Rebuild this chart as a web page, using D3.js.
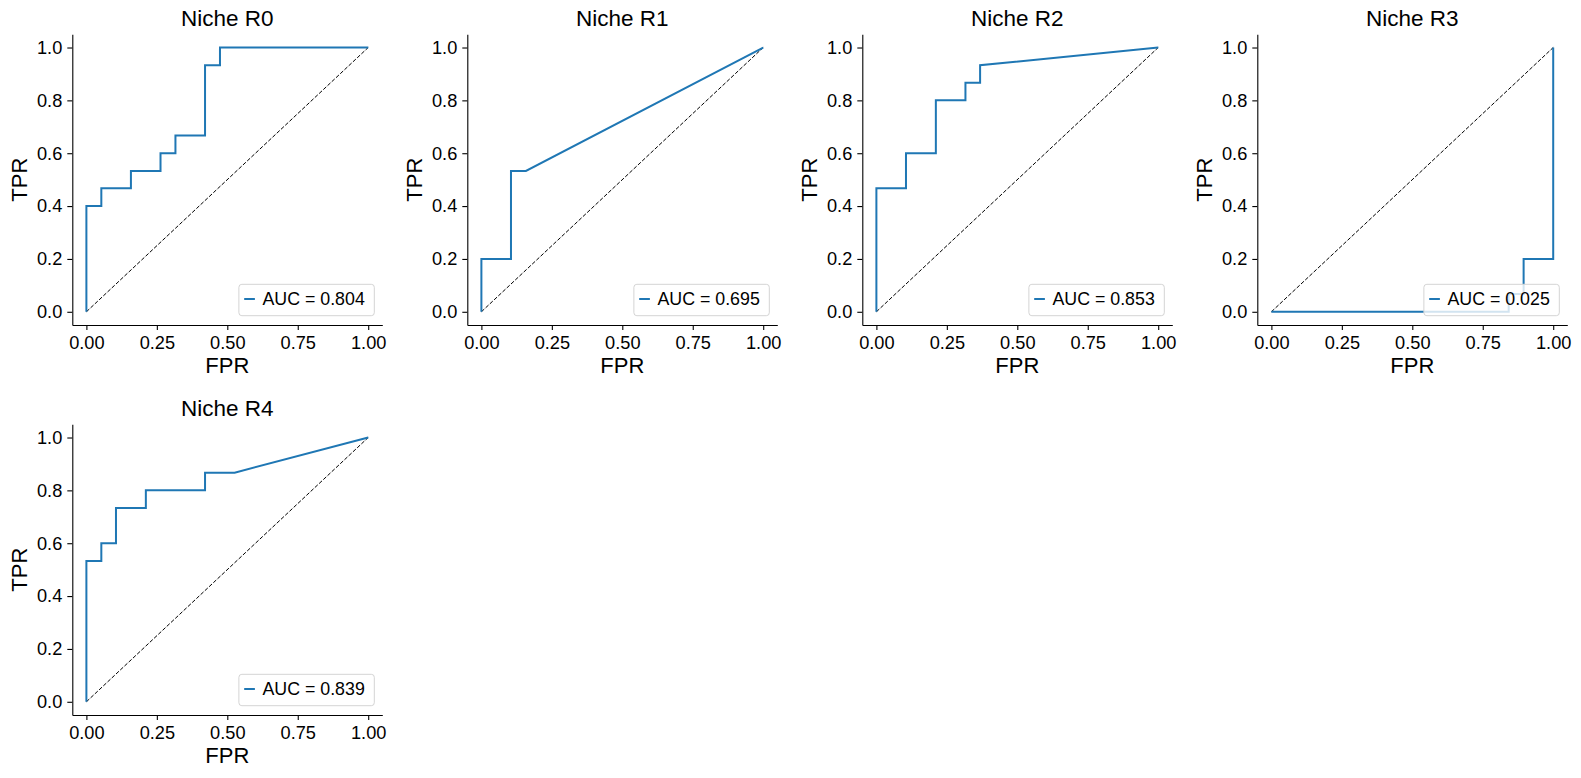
<!DOCTYPE html>
<html>
<head>
<meta charset="utf-8">
<script src="https://cdn.jsdelivr.net/npm/d3@7"></script>
<style>
  body { margin: 0; background: #fff; }
  text { font-family: "Liberation Sans", Arial, sans-serif; }
</style>
</head>
<body>
<script>
// values
const titles = ["Niche R0", "Niche R1", "Niche R2", "Niche R3", "Niche R4"];
const aucs = [0.804, 0.695, 0.853, 0.025, 0.839];

const fprR0 = [0, 0, 0.053, 0.053, 0.158, 0.158, 0.263, 0.263, 0.316, 0.316, 0.421, 0.421, 0.474, 0.474, 1];
const tprR0 = [0, 0.4, 0.4, 0.467, 0.467, 0.533, 0.533, 0.6, 0.6, 0.667, 0.667, 0.933, 0.933, 1, 1];

const fprR1 = [0, 0, 0.105, 0.105, 0.158, 1];
const tprR1 = [0, 0.2, 0.2, 0.533, 0.533, 1];

const fprR2 = [0, 0, 0.105, 0.105, 0.211, 0.211, 0.316, 0.316, 0.368, 0.368, 1];
const tprR2 = [0, 0.467, 0.467, 0.6, 0.6, 0.8, 0.8, 0.867, 0.867, 0.933, 1];

const fprR3 = [0, 0.842, 0.842, 0.895, 0.895, 1, 1];
const tprR3 = [0, 0, 0.067, 0.067, 0.2, 0.2, 1];

const fprR4 = [0, 0, 0.053, 0.053, 0.105, 0.105, 0.211, 0.211, 0.421, 0.421, 0.526, 1];
const tprR4 = [0, 0.533, 0.533, 0.6, 0.6, 0.733, 0.733, 0.8, 0.8, 0.867, 0.867, 1];

const xTicks = [0, 0.25, 0.5, 0.75, 1];
const yTicks = [0, 0.2, 0.4, 0.6, 0.8, 1];

const curves = [[fprR0, tprR0], [fprR1, tprR1], [fprR2, tprR2], [fprR3, tprR3], [fprR4, tprR4]]
  .map(([f, t]) => f.map((x, i) => ({x, y: t[i]})));

const width = 1581, height = 778;
const pw = 310, ph = 290.7;
const left0 = 72.3, top0 = 34.3, dx = 395, dy = 390;

const svg = d3.select("body").append("svg")
    .attr("width", width)
    .attr("height", height);

const x = d3.scaleLinear().domain([-0.05, 1.05]).range([0, pw]);
const y = d3.scaleLinear().domain([-0.05, 1.05]).range([ph, 0]);

const line = d3.line().x(d => x(d.x)).y(d => y(d.y));

curves.forEach((data, i) => {
  const col = i % 4, row = Math.floor(i / 4);
  const g = svg.append("g")
      .attr("transform", `translate(${left0 + col * dx},${top0 + row * dy})`);

  g.append("g")
      .attr("transform", `translate(0,${ph})`)
      .call(d3.axisBottom(x).tickValues(xTicks).tickFormat(d3.format(".2f"))
        .tickSize(5).tickPadding(6).tickSizeOuter(0))
      .call(g => g.selectAll("text").attr("font-size", 18.2).attr("fill", "#000")
        .attr("font-family", "'Liberation Sans', Arial, sans-serif"))
      .call(g => g.selectAll("line, path").attr("stroke", "#000").attr("stroke-width", 1.1));

  g.append("g")
      .call(d3.axisLeft(y).tickValues(yTicks).tickFormat(d3.format(".1f"))
        .tickSize(5).tickPadding(5).tickSizeOuter(0))
      .call(g => g.selectAll("text").attr("font-size", 18.2).attr("fill", "#000")
        .attr("font-family", "'Liberation Sans', Arial, sans-serif"))
      .call(g => g.selectAll("line, path").attr("stroke", "#000").attr("stroke-width", 1.1));

  // chance diagonal
  g.append("path")
      .datum([{x: 0, y: 0}, {x: 1, y: 1}])
      .attr("d", line)
      .attr("fill", "none")
      .attr("stroke", "#000")
      .attr("stroke-width", 1)
      .attr("stroke-dasharray", "4,1.8");

  g.append("path")
      .datum(data)
      .attr("d", line)
      .attr("fill", "none")
      .attr("stroke", "#1f77b4")
      .attr("stroke-width", 2)
      .attr("stroke-linejoin", "miter");

  g.append("text")
      .attr("x", pw / 2)
      .attr("y", -8.3)
      .attr("text-anchor", "middle")
      .attr("font-size", 22.5)
      .text(titles[i]);

  g.append("text")
      .attr("x", pw / 2)
      .attr("y", ph + 48)
      .attr("text-anchor", "middle")
      .attr("font-size", 22)
      .text("FPR");

  g.append("text")
      .attr("transform", `translate(-45.6,${ph / 2}) rotate(-90)`)
      .attr("text-anchor", "middle")
      .attr("font-size", 22)
      .text("TPR");

  // legend
  const lg = g.append("g");
  const box = lg.append("rect")
      .attr("rx", 3)
      .attr("fill", "#fff")
      .attr("fill-opacity", 0.8)
      .attr("stroke", "#d4d4d4")
      .attr("stroke-width", 1);
  lg.append("line")
      .attr("x1", 5.3).attr("x2", 16)
      .attr("y1", 14.7).attr("y2", 14.7)
      .attr("stroke", "#1f77b4")
      .attr("stroke-width", 2);
  const lt = lg.append("text")
      .attr("x", 23.6)
      .attr("y", 14)
      .attr("dy", "0.35em")
      .attr("font-size", 17.8)
      .text(`AUC = ${d3.format(".3f")(aucs[i])}`);
  const bw = 23.6 + lt.node().getComputedTextLength() + 9.5, bh = 31.4;
  box.attr("width", bw).attr("height", bh);
  lg.attr("transform", `translate(${pw - 8 - bw},${ph - 9.3 - bh})`);
});
</script>
</body>
</html>
